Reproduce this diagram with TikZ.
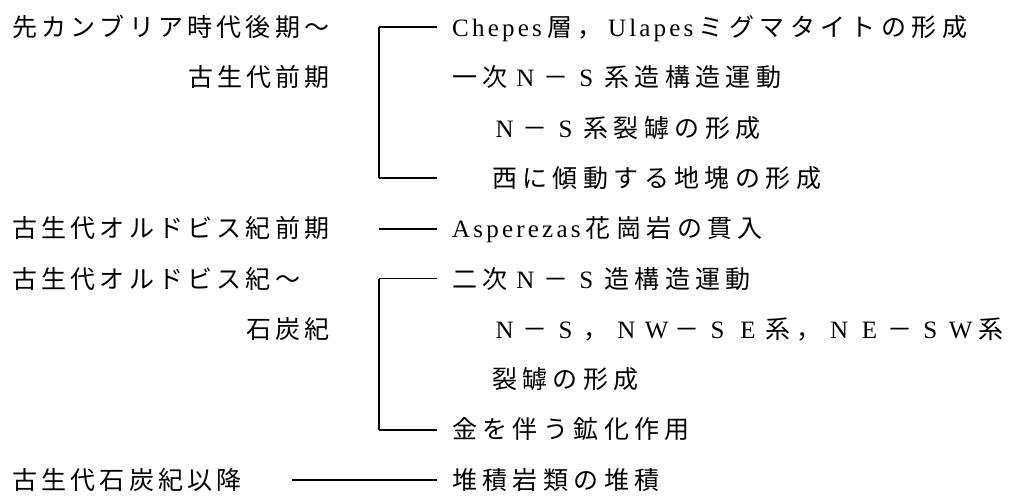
\documentclass[tikz,border=0pt]{standalone}
\usepackage{fontspec}
\newfontfamily\jp{Noto Sans CJK JP}
\newfontfamily\lat{Liberation Serif}
\newdimen\lsp
\def\spaced#1{\spacedfirst#1\relax}
\def\spacedfirst#1{{#1}\spacedrest}
\def\spacedrest#1{\ifx\relax#1\else\kern\lsp{#1}\expandafter\spacedrest\fi}
\def\sL#1{\lsp=4.2pt\spaced{#1}}
\def\sR#1{\lsp=5.4pt\spaced{#1}}
\def\lw#1{{\lat\lsp=3.2pt\spaced{#1}}}
\def\fw#1{\makebox[25pt]{\lat #1}}
\tikzset{
  txt/.style={inner sep=0pt, font=\jp\fontsize{25}{30}\selectfont},
  lft/.style={txt, anchor=base west},
  rgt/.style={txt, anchor=base east},
  link/.style={line width=1.5pt, line cap=butt},
  spine/.style={line width=2pt},
}
\begin{document}
\begin{tikzpicture}[x=1pt,y=-1pt]
\useasboundingbox (0,0) rectangle (1011,496);
% left column
\node[lft] (l1) at (12,36.5) {\sL{先カンブリア時代後期～}};
\node[rgt] (l2) at (330,86.8) {\sL{古生代前期}};
\node[lft] (l5) at (12,237.7) {\sL{古生代オルドビス紀前期}};
\node[lft] (l6) at (12,288) {\sL{古生代オルドビス紀～}};
\node[rgt] (l7) at (330,338.3) {\sL{石炭紀}};
\node[lft] (l10) at (12,489.2) {\sL{古生代石炭紀以降}};
% right column
\node[lft] (r1) at (452,36.5) {\sR{{\lw{Chepes}}層，{\lw{Ulapes}}ミグマタイトの形成}};
\node[lft] (r2) at (452,86.8) {\sR{一次{\fw N}－{\fw S}系造構造運動}};
\node[lft] (r3) at (492,137.1) {\sR{{\fw N}－{\fw S}系裂罅の形成}};
\node[lft] (r4) at (492,187.4) {\sR{西に傾動する地塊の形成}};
\node[lft] (r5) at (452,237.7) {\sR{{\lw{Asperezas}}花崗岩の貫入}};
\node[lft] (r6) at (452,288) {\sR{二次{\fw N}－{\fw S}造構造運動}};
\node[lft] (r7) at (492,338.3) {\sR{{\fw N}－{\fw S}，{\fw N}{\fw W}－{\fw S}{\fw E}系，{\fw N}{\fw E}－{\fw S}{\fw W}系}};
\node[lft] (r8) at (492,388.6) {\sR{裂罅の形成}};
\node[lft] (r9) at (452,438.9) {\sR{金を伴う鉱化作用}};
\node[lft] (r10) at (452,489.2) {\sR{堆積岩類の堆積}};
% bracket coordinates
\coordinate (a1) at (379,27);
\coordinate (a1e) at (437,27);
\coordinate (a4) at (379,178);
\coordinate (a4e) at (437,178);
\coordinate (a5) at (379,229);
\coordinate (a5e) at (437,229);
\coordinate (a6) at (379,278.5);
\coordinate (a6e) at (437,278.5);
\coordinate (a9) at (379,430);
\coordinate (a9e) at (437,430);
\coordinate (a10) at (292,480);
\coordinate (a10e) at (437,480);
\draw[spine] (a1) -- (a4);
\draw[link] (a1) -- (a1e);
\draw[link] (a4) -- (a4e);
\draw[link] (a5) -- (a5e);
\draw[spine] (a6) -- (a9);
\draw[link] (a6) -- (a6e);
\draw[link] (a9) -- (a9e);
\draw[link] (a10) -- (a10e);
\end{tikzpicture}
\end{document}
